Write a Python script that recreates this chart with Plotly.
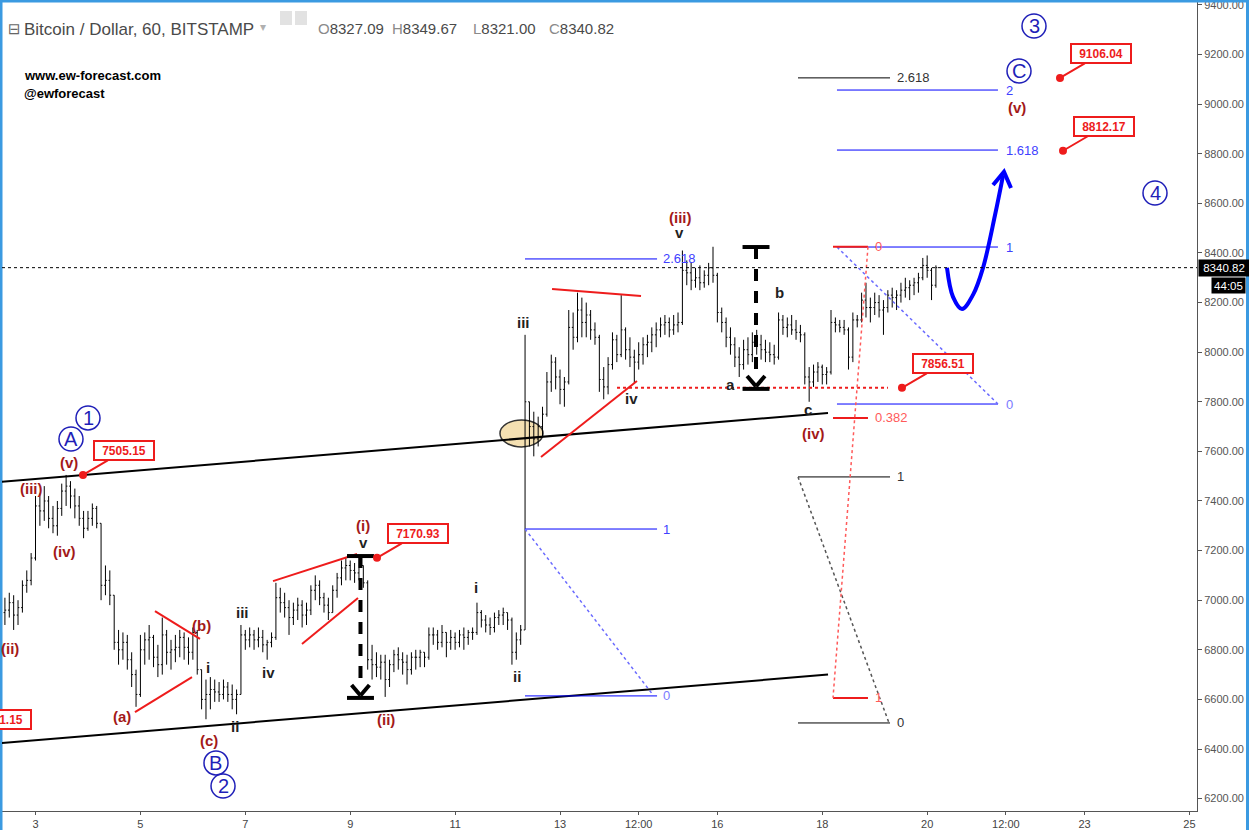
"""
    Bitcoin / Dollar (BITSTAMP) with an Elliott wave count, April 2018
"""

import base64

import pandas as pd
import plotly.graph_objs as go

FONT = "Liberation Sans, Arial, sans-serif"
RED = "#ee1c1c"
WAVE_RED = "#a31919"
BLUE = "#0000ff"
FIB_BLUE = "#4040ff"
CIRCLE_BLUE = "#1f1fb8"
DARK = "#222222"
FRAME = "#3b9ae1"

# 2-hour bars, first one at 2018-04-02 10:00
bar_start = "2018-04-02 10:00"
first_open = 6950

bar_close = [
    6960, 6990, 6940, 6970, 7060, 7080, 7170,
    7380, 7360, 7400, 7330, 7300, 7370, 7440, 7460, 7420, 7380, 7330, 7290,
    7330, 7370, 7310, 7060, 7080, 7020, 6830, 6800, 6830, 6760, 6700, 6620,
    6800, 6840, 6850, 6770, 6740, 6860, 6790, 6800, 6810, 6850, 6810, 6790,
    6870, 6720, 6600, 6620, 6640, 6630, 6620, 6650, 6620, 6600, 6620, 6860,
    6840, 6860, 6840, 6850, 6820, 6830, 6850, 7010, 6990, 6970, 6930, 6960,
    6980, 6940, 6960, 7040, 7060, 7010, 6980, 6950, 7040, 7090, 7130, 7140,
    7120, 7110, 7140, 7070, 6760, 6740, 6730, 6750, 6680, 6740, 6780, 6760,
    6750, 6720, 6770, 6770, 6790, 6770, 6860, 6860, 6830, 6870, 6830, 6850,
    6830, 6860, 6850, 6870, 6870, 6950, 6920, 6900, 6890, 6930, 6940, 6950,
    6920, 6790, 6840, 6880, 7800, 7700, 7650, 7700, 7750, 7880, 7960, 7900,
    7850, 7880, 8100, 8060, 8170, 8120, 8150, 8090, 8060, 7890, 7860, 7950,
    8050, 7990, 8090, 8010, 7980, 7960, 7990, 8030, 8040, 8070, 8090, 8110,
    8120, 8090, 8110, 8120, 8330, 8320, 8290, 8300, 8280, 8310, 8340, 8310,
    8160, 8120, 8060, 8030, 7980, 7950, 8010, 7990, 8040, 8030, 8010, 8000,
    7990, 7980, 8130, 8100, 8110, 8090, 8080, 8070, 7900, 7880, 7920, 7940,
    7910, 7920, 8120, 8110, 8100, 8090, 7980, 8130, 8130, 8210, 8180, 8180,
    8200, 8170, 8180, 8230, 8220, 8230, 8250, 8260, 8270, 8280, 8300, 8350,
    8330, 8270, 8340.82,
]

bar_high = [
    7010, 7030, 7020, 7000, 7080, 7120, 7190,
    7420, 7430, 7460, 7420, 7380, 7400, 7470, 7505, 7480, 7450, 7420, 7360,
    7360, 7390, 7380, 7310, 7140, 7120, 7020, 6880, 6870, 6860, 6790, 6720,
    6860, 6870, 6900, 6860, 6820, 6930, 6880, 6840, 6860, 6880, 6870, 6850,
    6890, 6880, 6720, 6680, 6690, 6680, 6670, 6680, 6670, 6660, 6640, 6900,
    6880, 6890, 6880, 6890, 6880, 6840, 6870, 7070, 7050, 7030, 7000, 6990,
    7010, 7000, 6990, 7060, 7100, 7080, 7030, 7010, 7060, 7110, 7160, 7170,
    7160, 7150, 7170, 7140, 7080, 6820, 6790, 6780, 6780, 6760, 6800, 6810,
    6790, 6780, 6790, 6800, 6800, 6790, 6890, 6890, 6880, 6900, 6870, 6880,
    6870, 6880, 6890, 6880, 6890, 6990, 6960, 6940, 6930, 6950, 6960, 6970,
    6950, 6930, 6870, 6900, 8070, 7800, 7760, 7740, 7780, 7920, 7990, 7980,
    7930, 7900, 8170, 8160, 8240, 8220, 8200, 8170, 8120, 8070, 7940, 7980,
    8080, 8070, 8230, 8100, 8060, 8010, 8040, 8060, 8070, 8100, 8120, 8140,
    8150, 8140, 8150, 8160, 8410, 8370, 8360, 8340, 8350, 8330, 8360, 8425,
    8320, 8180, 8140, 8100, 8060, 8020, 8050, 8060, 8080, 8090, 8070, 8050,
    8040, 8030, 8160, 8150, 8140, 8150, 8130, 8110, 8080, 7940, 7950, 7960,
    7950, 7940, 8170, 8140, 8130, 8130, 8100, 8160, 8150, 8240, 8280, 8220,
    8240, 8230, 8210, 8250, 8260, 8250, 8280, 8300, 8290, 8300, 8320, 8380,
    8390, 8340, 8350,
]

bar_low = [
    6900, 6930, 6880, 6900, 6950, 7030, 7060,
    7160, 7300, 7320, 7290, 7270, 7260, 7340, 7380, 7370, 7330, 7300, 7250,
    7280, 7300, 7290, 7000, 7020, 6980, 6800, 6740, 6760, 6720, 6650, 6570,
    6610, 6740, 6760, 6730, 6690, 6700, 6740, 6720, 6750, 6770, 6760, 6740,
    6760, 6700, 6560, 6520, 6560, 6590, 6590, 6600, 6590, 6560, 6540, 6620,
    6800, 6810, 6800, 6810, 6790, 6760, 6810, 6840, 6950, 6930, 6860, 6900,
    6920, 6890, 6900, 6940, 7000, 6980, 6950, 6920, 6950, 7010, 7060, 7080,
    7080, 7070, 7080, 7050, 6720, 6680, 6690, 6680, 6610, 6650, 6710, 6720,
    6700, 6660, 6700, 6720, 6730, 6730, 6760, 6820, 6800, 6810, 6770, 6800,
    6800, 6810, 6800, 6820, 6840, 6860, 6890, 6870, 6860, 6870, 6900, 6900,
    6880, 6740, 6760, 6820, 6880, 7620, 7580, 7620, 7660, 7740, 7840, 7850,
    7790, 7780, 7870, 8010, 8040, 8060, 8060, 8050, 8030, 7840, 7810, 7830,
    7930, 7960, 7980, 7970, 7940, 7876, 7930, 7950, 7980, 8000, 8020, 8060,
    8070, 8060, 8070, 8080, 8110, 8270, 8250, 8260, 8250, 8260, 8270, 8280,
    8120, 8080, 8020, 7990, 7940, 7900, 7930, 7950, 7960, 7990, 7970, 7960,
    7960, 7950, 7970, 8070, 8060, 8070, 8050, 8040, 7870, 7800, 7860, 7880,
    7870, 7870, 7910, 8080, 8080, 8070, 7930, 7960, 8100, 8120, 8140, 8120,
    8150, 8140, 8070, 8160, 8180, 8170, 8200, 8220, 8210, 8230, 8240, 8290,
    8300, 8210, 8260,
]

x_tick_days = [3, 5, 7, 9, 11, 13, 14.5, 16, 18, 20, 21.5, 23, 25]
x_tick_text = ["3", "5", "7", "9", "11", "13", "12:00", "16", "18", "20", "12:00", "23", "25"]

last_price = 8340.82
header_ohlc = [("O", "8327.09"), ("H", "8349.67"), ("L", "8321.00"), ("C", "8340.82")]
target_levels = [7505.15, 7170.93, 9106.04, 8812.17, 7856.51]


T0 = pd.Timestamp("2018-04-01")


def day(d):
    """April day number (fractional) -> date string"""
    return (T0 + pd.Timedelta(days=d - 1)).strftime("%Y-%m-%d %H:%M")


def px(x):
    """figure pixel x -> paper x"""
    return (x - 2) / 1195


def py(y):
    """figure pixel y -> paper y"""
    return (811 - y) / 809


shapes = []
notes = []


def line(d0, p0, d1, p1, color, width=1, dash="solid"):
    shapes.append(
        dict(type="line", xref="x", yref="y", x0=day(d0), y0=p0, x1=day(d1), y1=p1,
             line=dict(color=color, width=width, dash=dash))
    )


def text(d, p, s, color, size=15, bold=True, xanchor="center"):
    notes.append(
        dict(xref="x", yref="y", x=day(d), y=p, text=f"<b>{s}</b>" if bold else s,
             showarrow=False, xanchor=xanchor, yanchor="middle",
             font=dict(family=FONT, size=size, color=color))
    )


def circled(d, p, s):
    shapes.append(
        dict(type="circle", xref="x", yref="y", xsizemode="pixel", ysizemode="pixel",
             xanchor=day(d), yanchor=p, x0=-12, x1=12, y0=-12, y1=12,
             line=dict(color=CIRCLE_BLUE, width=1.5))
    )
    text(d, p, s, CIRCLE_BLUE, size=20, bold=False)


def callout(d, p, value, ax=41, ay=-24):
    notes.append(
        dict(xref="x", yref="y", x=day(d), y=p, text=f"<b>{value:.2f}</b>", showarrow=True,
             arrowhead=6, arrowsize=1, arrowwidth=2, arrowcolor=RED, ax=ax, ay=ay,
             font=dict(family=FONT, size=12, color=RED), bgcolor="white",
             bordercolor=RED, borderwidth=2, borderpad=1, width=56, height=15)
    )


# Price bars
times = pd.date_range(bar_start, periods=len(bar_close), freq="2h")
bar_open = [first_open] + bar_close[:-1]

data = [
    go.Ohlc(
        x=times, open=bar_open, high=bar_high, low=bar_low, close=bar_close,
        increasing={"line": {"color": "black", "width": 1}},
        decreasing={"line": {"color": "black", "width": 1}},
        tickwidth=0.3, hoverinfo="skip", showlegend=False,
    )
]

# Channel and ellipse
line(2.0, 7471, 18.11, 7755, "black", 2)
line(2.0, 6418, 18.11, 6700, "black", 2)
shapes.append(
    dict(type="circle", xref="x", yref="y", x0=day(11.856), x1=day(12.676), y0=7618, y1=7727,
         fillcolor="rgba(242,218,165,0.85)", line=dict(color="#333333", width=1.5), layer="below")
)

# Red trend lines
line(4.897, 6549, 5.984, 6690, RED, 2)
line(5.278, 6956, 6.136, 6844, RED, 2)
line(7.528, 7077, 9.130, 7186, RED, 2)
line(8.081, 6823, 9.149, 7009, RED, 2)
line(12.638, 7577, 14.468, 7884, RED, 2)
line(12.848, 8255, 14.545, 8227, RED, 2)
line(14.087, target_levels[4], 19.253, target_levels[4], RED, 2, "dot")

# Fibonacci levels - blue (left)
for lvl, lab in [(8376, "2.618"), (7287, "1"), (6614, "0")]:
    line(12.333, lvl, 14.85, lvl, BLUE)
    text(14.92, lvl, lab, FIB_BLUE if lab != "0" else "#7a7aff", 13, False, "left")
line(12.333, 7287, 14.773, 6618, "#6a6aff", 1.5, "dot")

# Fibonacci levels - blue (right)
for lvl, lab in [(9057, "2"), (8815, "1.618"), (8424, "1"), (7791, "0")]:
    line(18.281, lvl, 21.35, lvl, BLUE)
    text(21.465, lvl, lab, FIB_BLUE if lab != "0" else "#7a7aff", 13, False, "left")
line(18.281, 8424, 21.35, 7791, "#6a6aff", 1.5, "dot")

# Fibonacci levels - black
for lvl, lab in [(9106, "2.618"), (7497, "1"), (6505, "0")]:
    line(17.538, lvl, 19.292, lvl, "black")
    text(19.387, lvl, lab, "#333333", 13, False, "left")
line(17.538, 7497, 19.273, 6505, "#555555", 1.5, "dot")

# Fibonacci levels - red
for lvl, lab in [(8425, "0"), (7735, "0.382"), (6606, "1")]:
    line(18.205, lvl, 18.872, lvl, RED, 2)
    text(18.967, lvl, lab, "#ff5a5a", 13, False, "left")
line(18.872, 8425, 18.205, 6606, "#ff5a5a", 1.5, "dot")

# Measured moves (T markers)
for dc, top, bottom in [(9.196, 7178, 6606), (16.737, 8424, 7852)]:
    line(dc - 0.257, top, dc + 0.257, top, "black", 4)
    line(dc, top, dc, bottom + 40, "black", 4, "12px,10px")
    line(dc - 0.17, bottom + 52, dc, bottom + 10, "black", 4)
    line(dc, bottom + 10, dc + 0.17, bottom + 52, "black", 4)
    line(dc - 0.257, bottom, dc + 0.257, bottom, "black", 4)

# Projected path
data.append(
    go.Scatter(
        x=[day(d) for d in [20.378, 20.493, 20.664, 20.874, 21.065, 21.294, 21.446]],
        y=[8340, 8223, 8174, 8231, 8340, 8553, 8712],
        mode="lines", line={"color": BLUE, "width": 4, "shape": "spline"},
        hoverinfo="skip", showlegend=False,
    )
)
data.append(
    go.Scatter(
        x=[day(21.256), day(21.465), day(21.599)], y=[8674, 8727, 8662],
        mode="lines", line={"color": BLUE, "width": 4},
        hoverinfo="skip", showlegend=False,
    )
)

# Current price line
shapes.append(
    dict(type="line", xref="paper", yref="y", x0=0, x1=1, y0=last_price, y1=last_price,
         line=dict(color="black", width=1, dash="dot"))
)

# Wave labels
for d, p, s in [
    (2.514, 6807, "(ii)"), (2.933, 7452, "(iii)"), (3.562, 7198, "(iv)"), (3.639, 7557, "(v)"),
    (4.649, 6533, "(a)"), (6.174, 6896, "(b)"), (6.308, 6436, "(c)"), (9.244, 7303, "(i)"),
    (9.683, 6517, "(ii)"), (15.288, 8545, "(iii)"), (17.824, 7674, "(iv)"), (21.713, 8985, "(v)"),
]:
    text(d, p, s, WAVE_RED)

for d, p, s in [
    (6.289, 6727, "i"), (6.804, 6489, "ii"), (6.937, 6952, "iii"), (7.433, 6710, "iv"),
    (9.244, 7231, "v"), (11.399, 7053, "i"), (12.180, 6694, "ii"), (12.313, 8118, "iii"),
    (14.354, 7815, "iv"), (15.269, 8481, "v"), (16.241, 7868, "a"), (17.176, 8239, "b"),
    (17.728, 7767, "c"),
]:
    text(d, p, s, DARK)

for d, p, s in [
    (4.001, 7735, "1"), (3.677, 7650, "A"), (6.441, 6344, "B"), (6.575, 6251, "2"),
    (22.037, 9315, "3"), (21.751, 9134, "C"), (24.344, 8642, "4"),
]:
    circled(d, p, s)

# Price callouts
callout(3.906, target_levels[0], target_levels[0])
callout(9.511, target_levels[1], target_levels[1])
callout(22.533, target_levels[2], target_levels[2])
callout(22.59, target_levels[3], target_levels[3])
callout(19.52, target_levels[4], target_levels[4])
notes.append(
    dict(xref="x", yref="y", x=day(2.933), y=6517, text="<b>6431.15</b>", showarrow=False,
         xanchor="right", font=dict(family=FONT, size=12, color=RED), bgcolor="white",
         bordercolor=RED, borderwidth=2, borderpad=1, width=56, height=15)
)

# Header
notes += [
    dict(xref="paper", yref="paper", x=px(6), y=py(18), text="⊟", showarrow=False,
         xanchor="left", font=dict(family="DejaVu Sans", size=15, color="#666666")),
    dict(xref="paper", yref="paper", x=px(22), y=py(18), text="Bitcoin / Dollar, 60, BITSTAMP",
         showarrow=False, xanchor="left", font=dict(family=FONT, size=17, color="#4a4a4a")),
    dict(xref="paper", yref="paper", x=px(258), y=py(18), text="▾", showarrow=False,
         xanchor="left", font=dict(family="DejaVu Sans", size=12, color="#b0b0b0")),
    dict(xref="paper", yref="paper", x=px(22), y=py(66), text="<b>www.ew-forecast.com</b>",
         showarrow=False, xanchor="left", font=dict(family=FONT, size=13, color="black")),
    dict(xref="paper", yref="paper", x=px(22), y=py(84), text="<b>@ewforecast</b>",
         showarrow=False, xanchor="left", font=dict(family=FONT, size=13, color="black")),
]
for x0, (letter, value) in zip([316, 390, 471, 547], header_ohlc):
    notes.append(
        dict(xref="paper", yref="paper", x=px(x0), y=py(18),
             text=f"<span style='color:#8a8a8a'>{letter}</span>{value}", showarrow=False,
             xanchor="left", font=dict(family=FONT, size=15, color="#4a4a4a"))
    )
for x0 in [280, 295]:
    shapes.append(
        dict(type="rect", xref="paper", yref="paper", x0=px(x0), x1=px(x0 + 12),
             y0=py(25), y1=py(11), fillcolor="#e2e2e2", line=dict(width=0))
    )

# Axis price tags
notes += [
    dict(xref="paper", yref="y", x=px(1198), y=last_price, text=f"{last_price:.2f}",
         showarrow=False, xanchor="left", bgcolor="black", borderpad=2, width=46, height=12,
         font=dict(family=FONT, size=11.5, color="white")),
    dict(xref="paper", yref="y", x=px(1246), y=8269, text="44:05", showarrow=False,
         xanchor="right", bgcolor="black", borderpad=2, width=29, height=11,
         font=dict(family=FONT, size=11.5, color="white")),
]

# Blue window frame, as an overlay picture covering the whole figure
frame_svg = (
    "<svg xmlns='http://www.w3.org/2000/svg' width='1249' height='830'>"
    f"<rect x='0' y='0' width='1249' height='2.5' fill='{FRAME}'/>"
    f"<rect x='0' y='0' width='2.5' height='830' fill='{FRAME}'/>"
    f"<rect x='1246' y='0' width='3' height='830' fill='{FRAME}'/>"
    "</svg>"
)
frame_src = "data:image/svg+xml;base64," + base64.b64encode(frame_svg.encode()).decode()

layout = go.Layout(
    width=1249,
    height=830,
    margin=dict(l=2, r=52, t=2, b=19, autoexpand=False),
    paper_bgcolor="white",
    plot_bgcolor="white",
    showlegend=False,
    font=dict(family=FONT),
    xaxis=dict(
        type="date", range=[day(2.3613), day(25.145)],
        tickvals=[day(d) for d in x_tick_days], ticktext=x_tick_text,
        showgrid=False, zeroline=False, showline=True, linecolor="#555555",
        ticks="outside", ticklen=3, tickcolor="#555555", automargin=False,
        tickfont=dict(size=11, color="#444444"), rangeslider=dict(visible=False),
    ),
    yaxis=dict(
        side="right", range=[6150, 9412], tick0=6200, dtick=200, tickformat=".2f",
        showgrid=False, zeroline=False, showline=True, linecolor="#555555",
        ticks="outside", ticklen=4, tickcolor="#555555", ticklabeloverflow="allow",
        automargin=False, tickfont=dict(size=11, color="#555555"),
    ),
    images=[
        dict(source=frame_src, xref="paper", yref="paper", x=px(0), y=py(0),
             sizex=1249 / 1195, sizey=830 / 809, sizing="stretch",
             xanchor="left", yanchor="top", layer="above")
    ],
    shapes=shapes,
    annotations=notes,
)

fig = go.Figure(data=data, layout=layout)
fig.write_html(
    "out.html",
    config={"displayModeBar": False},
    post_script="document.body.style.margin='0';document.body.style.overflow='hidden';",
)
